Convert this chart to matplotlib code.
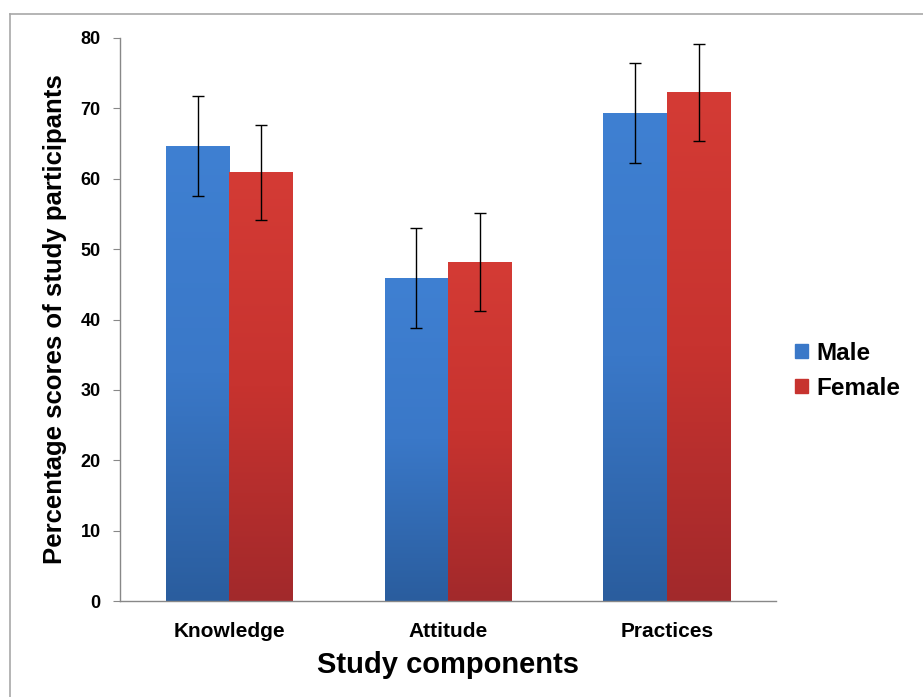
import matplotlib.pyplot as plt
import numpy as np
from matplotlib.colors import LinearSegmentedColormap
from matplotlib.lines import Line2D

categories = ['Knowledge', 'Attitude', 'Practices']
male = [64.6, 45.9, 69.4]
female = [60.9, 48.2, 72.3]
male_err = [7.1, 7.1, 7.1]
female_err = [6.8, 7.0, 6.9]

plt.rcParams['font.family'] = ['Liberation Sans', 'DejaVu Sans']
plt.rcParams['font.weight'] = 'bold'

fig = plt.figure(figsize=(9.23, 6.97), dpi=100)
ax = fig.add_axes([0.130, 0.1377, 0.711, 0.8078])

# thin gray frame lines (top and left) like the cropped screenshot
fig.add_artist(Line2D([10 / 923, 10 / 923], [0, 1 - 14 / 697], color='#a8a8a8', lw=1.2))
fig.add_artist(Line2D([10 / 923, 1], [1 - 14 / 697, 1 - 14 / 697], color='#a8a8a8', lw=1.2))

x = np.arange(len(categories))
w = 0.29

blue_cmap = LinearSegmentedColormap.from_list('b', ['#2a5d9e', '#3a78c8', '#3f80d2'])
red_cmap = LinearSegmentedColormap.from_list('r', ['#a2292b', '#c7332f', '#d43b35'])

bars_m = ax.bar(x - w / 2, male, w, color='#3a78c8', zorder=2)
bars_f = ax.bar(x + w / 2, female, w, color='#c7332f', zorder=2)

grad = np.linspace(0, 1, 256).reshape(-1, 1)
for bars, cmap in [(bars_m, blue_cmap), (bars_f, red_cmap)]:
    for b in bars:
        x0, y0 = b.get_x(), b.get_y()
        x1, y1 = x0 + b.get_width(), y0 + b.get_height()
        im = ax.imshow(grad, cmap=cmap, aspect='auto', origin='lower',
                       extent=[x0, x1, y0, y1], zorder=2.5)
        im.set_clip_path(b)
        b.set_facecolor('none')

ax.errorbar(x - w / 2, male, yerr=male_err, fmt='none', ecolor='black',
            elinewidth=1.0, capsize=4, capthick=1.0, zorder=3)
ax.errorbar(x + w / 2, female, yerr=female_err, fmt='none', ecolor='black',
            elinewidth=1.0, capsize=4, capthick=1.0, zorder=3)

ax.set_xlim(-0.5, len(categories) - 0.5)
ax.set_ylim(0, 80)
ax.set_yticks(range(0, 81, 10))
ax.set_xticks(x)
ax.set_xticklabels(categories, fontsize=15, fontweight='bold')
ax.tick_params(axis='x', length=0, pad=15)
ax.tick_params(axis='y', labelsize=13, length=5, color='#888888', pad=9)
for lab in ax.get_yticklabels():
    lab.set_fontweight('bold')

for s in ['top', 'right']:
    ax.spines[s].set_visible(False)
for s in ['left', 'bottom']:
    ax.spines[s].set_color('#888888')
    ax.spines[s].set_linewidth(1.0)

ax.set_ylabel('Percentage scores of study participants', fontsize=18.5,
              fontweight='bold', labelpad=10)
ax.set_xlabel('Study components', fontsize=21, fontweight='bold', labelpad=7)

handles = [plt.Rectangle((0, 0), 1, 1, color='#3a78c8'),
           plt.Rectangle((0, 0), 1, 1, color='#c7332f')]
fig.legend(handles, ['Male', 'Female'], loc='center left',
           bbox_to_anchor=(0.838, 0.468), frameon=False,
           handlelength=0.5, handleheight=0.5, handletextpad=0.35,
           labelspacing=0.5, prop={'weight': 'bold', 'size': 17.5})

fig.savefig('out.png', dpi=100)
